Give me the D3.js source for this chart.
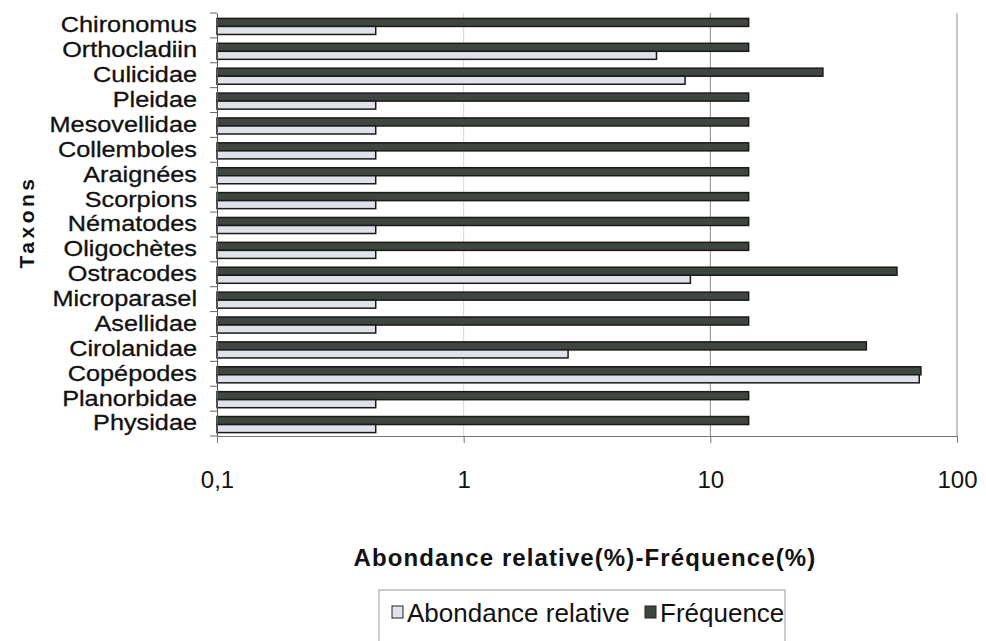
<!DOCTYPE html>
<html>
<head>
<meta charset="utf-8">
<script src="https://cdn.jsdelivr.net/npm/d3@7"></script>
<style>
  body { margin: 0; background: #fff; }
  svg { font-family: "Liberation Sans", Arial, sans-serif; }
</style>
</head>
<body>
<script>
// taxons from top to bottom
const taxons = ["Chironomus", "Orthocladiin", "Culicidae", "Pleidae", "Mesovellidae",
  "Collemboles", "Araignées", "Scorpions", "Nématodes", "Oligochètes", "Ostracodes",
  "Microparasel", "Asellidae", "Cirolanidae", "Copépodes", "Planorbidae", "Physidae"];

const abondance = [0.44, 6.05, 7.9, 0.44, 0.44, 0.44, 0.44, 0.44, 0.44, 0.44, 8.3,
  0.44, 0.44, 2.65, 70.3, 0.44, 0.44];
const frequence = [14.3, 14.3, 28.6, 14.3, 14.3, 14.3, 14.3, 14.3, 14.3, 14.3, 57.1,
  14.3, 14.3, 42.9, 71.4, 14.3, 14.3];

const seriesNames = ["Frequence", "Abondance"];
const xTicks = [0.1, 1, 10, 100];
const xTickLabels = ["0,1", "1", "10", "100"];

const width = 986, height = 641;
const plotLeft = 217, plotRight = 957, plotTop = 13, plotBottom = 436;

let svg = d3.select("body").append("svg")
    .attr("width", width)
    .attr("height", height);

let x = d3.scaleLog().domain([0.1, 100]).range([plotLeft, plotRight]);
let y = d3.scaleBand().domain(taxons).range([plotTop, plotBottom]);
let inner = d3.scaleBand().domain(seriesNames)
    .range([0, y.bandwidth()]).paddingOuter(0.55).paddingInner(0);

// vertical gridlines
svg.selectAll(".grid")
    .data(xTicks.slice(1))
    .enter().append("line")
    .attr("x1", d => x(d)).attr("x2", d => x(d))
    .attr("y1", plotTop).attr("y2", plotBottom)
    .attr("stroke", d => d == 1 ? "#d8d8d8" : "#8a8a8a")
    .attr("stroke-width", 1);

let rows = svg.selectAll(".row")
    .data(taxons)
    .enter().append("g")
    .attr("transform", d => "translate(0," + (y(d) + 1) + ")");

rows.append("rect")
    .attr("x", x(0.1))
    .attr("y", inner("Frequence"))
    .attr("width", (d, i) => x(frequence[i]) - x(0.1))
    .attr("height", inner.bandwidth())
    .attr("fill", "#3f463f")
    .attr("stroke", "#1a1a1a")
    .attr("stroke-width", 1.5);

rows.append("rect")
    .attr("x", x(0.1))
    .attr("y", inner("Abondance"))
    .attr("width", (d, i) => x(abondance[i]) - x(0.1))
    .attr("height", inner.bandwidth())
    .attr("fill", "#dfe2e8")
    .attr("stroke", "#1a1a1a")
    .attr("stroke-width", 1.5);

// y axis (labels stretched sideways like the condensed original font)
const labelScale = 1.17;
let yAxis = d3.axisLeft(y).tickSize(0).tickPadding(20);
let gy = svg.append("g")
    .attr("transform", "translate(" + plotLeft + ",0)")
    .call(yAxis);
gy.select(".domain").attr("stroke", "#555");
gy.selectAll("text")
    .attr("font-size", 21.6)
    .attr("x", -20 / labelScale)
    .attr("transform", "scale(" + labelScale + ",1)")
    .attr("fill", "#111")
    .attr("stroke", "#111")
    .attr("stroke-width", 0.3);

// category separator ticks
svg.selectAll(".ytick")
    .data(taxons.concat(["end"]))
    .enter().append("line")
    .attr("x1", plotLeft - 7).attr("x2", plotLeft)
    .attr("y1", (d, i) => plotTop + i * y.step())
    .attr("y2", (d, i) => plotTop + i * y.step())
    .attr("stroke", "#666");

// x axis
let xAxis = d3.axisBottom(x).tickValues(xTicks)
    .tickFormat((d, i) => xTickLabels[i]).tickSize(7).tickPadding(28);
let gx = svg.append("g")
    .attr("transform", "translate(0," + plotBottom + ")")
    .call(xAxis);
gx.select(".domain").attr("stroke", "#777");
gx.selectAll(".tick line").attr("stroke", "#777");
gx.selectAll("text").attr("font-size", 24).attr("fill", "#111");

// axis titles
svg.append("text")
    .attr("x", 585).attr("y", 566)
    .attr("text-anchor", "middle")
    .attr("font-size", 24)
    .attr("font-weight", "bold")
    .attr("letter-spacing", 1.1)
    .attr("fill", "#111")
    .text("Abondance relative(%)-Fréquence(%)");

svg.append("text")
    .attr("transform", "translate(34,222) rotate(-90)")
    .attr("text-anchor", "middle")
    .attr("font-size", 21)
    .attr("font-weight", "bold")
    .attr("letter-spacing", 3.5)
    .attr("fill", "#111")
    .text("Taxons");

// legend
let legend = svg.append("g");
legend.append("rect")
    .attr("x", 379).attr("y", 590)
    .attr("width", 406).attr("height", 60)
    .attr("fill", "#fff").attr("stroke", "#999");

const legendItems = [
  { label: "Abondance relative", fill: "#dfe2e8", x: 392 },
  { label: "Fréquence", fill: "#3f463f", x: 645 }
];
legendItems.forEach(item => {
  legend.append("rect")
      .attr("x", item.x).attr("y", 606)
      .attr("width", 11).attr("height", 12)
      .attr("fill", item.fill)
      .attr("stroke", "#222");
  legend.append("text")
      .attr("x", item.x + 15).attr("y", 622)
      .attr("font-size", 26)
      .attr("letter-spacing", 0)
      .attr("fill", "#111")
      .text(item.label);
});
</script>
</body>
</html>
